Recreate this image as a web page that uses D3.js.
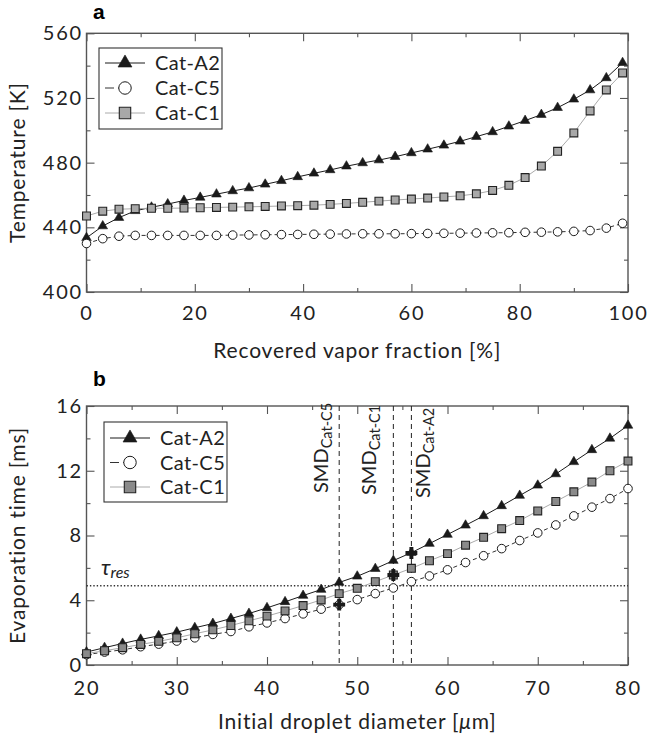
<!DOCTYPE html>
<html>
<head>
<meta charset="utf-8">
<script src="https://cdn.jsdelivr.net/npm/d3@7"></script>
<style>
  body { margin: 0; background: #fff; }
  svg { display: block; font-family: Lato, "Open Sans", sans-serif; }
</style>
</head>
<body>
<svg id="fig" width="651" height="741"></svg>
<script>
// ---- panel a: outlet temperature vs recovered vapor fraction ----
const fraction = [0, 3, 6, 9, 12, 15, 18, 21, 24, 27, 30, 33, 36, 39, 42, 45, 48,
  51, 54, 57, 60, 63, 66, 69, 72, 75, 78, 81, 84, 87, 90, 93, 96, 99];
const tempA2 = [433.5, 440.8, 446, 450.2, 452.4, 454.4, 456.6, 458.5, 460.5, 462.5,
  464.3, 466.6, 468.8, 471.2, 473.4, 475.5, 477.8, 479.8, 481.6, 483.7, 486, 488.3,
  490.7, 493.2, 496.1, 499, 502.5, 506, 509.7, 514, 519.2, 524.9, 532.4, 541.8];
const tempC5 = [430, 433, 434.5, 435, 435, 435, 435, 435, 435, 435.2, 435.3, 435.4,
  435.5, 435.6, 435.7, 435.8, 435.9, 436, 436, 436, 436.1, 436.2, 436.3, 436.4, 436.5,
  436.6, 436.7, 436.9, 437, 437.2, 437.5, 438, 439.5, 442.5];
const tempC1 = [447, 450, 451.2, 451.5, 451.8, 451.8, 451.9, 452.1, 452.3, 452.5,
  452.7, 452.9, 453.2, 453.4, 453.7, 454.2, 454.8, 455.5, 456.2, 456.9, 457.5, 458.1,
  458.8, 459.5, 460.7, 462.8, 466, 470.8, 477.9, 487, 498.4, 512, 525, 535.5];

// ---- panel b: evaporation time vs initial droplet diameter ----
const diameter = [20, 22, 24, 26, 28, 30, 32, 34, 36, 38, 40, 42, 44, 46, 48, 50,
  52, 54, 56, 58, 60, 62, 64, 66, 68, 70, 72, 74, 76, 78, 80];
const evapA2 = [0.8, 1.07, 1.33, 1.58, 1.8, 2.03, 2.3, 2.56, 2.87, 3.18, 3.53, 3.9,
  4.29, 4.66, 5.1, 5.48, 5.95, 6.45, 6.94, 7.5, 8.06, 8.63, 9.21, 9.83, 10.47, 11.1,
  11.8, 12.55, 13.29, 14.0, 14.8];
const evapC5 = [0.64, 0.8, 0.94, 1.13, 1.29, 1.48, 1.68, 1.89, 2.07, 2.36, 2.6, 2.87,
  3.16, 3.45, 3.73, 4.04, 4.41, 4.76, 5.15, 5.5, 5.88, 6.33, 6.75, 7.19, 7.69, 8.16,
  8.65, 9.21, 9.75, 10.28, 10.9];
const evapC1 = [0.7, 0.88, 1.07, 1.27, 1.46, 1.68, 1.93, 2.17, 2.44, 2.73, 3.02, 3.34,
  3.67, 4.02, 4.41, 4.74, 5.15, 5.56, 5.97, 6.44, 6.88, 7.4, 7.89, 8.42, 8.92, 9.52,
  10.1, 10.7, 11.3, 12.0, 12.6];

// Sauter mean diameters and the evaporation time read at each one
const smdNames = ["Cat-C5", "Cat-C1", "Cat-A2"];
const smdDiameter = [48, 54, 56];
const smdEvap = [3.73, 5.56, 6.92];
const tauRes = 4.9;

const seriesNames = ["Cat-A2", "Cat-C5", "Cat-C1"];

const svg = d3.select("#fig");
const INK = "#1a1a1a", FRAME = "#555", TXT = "#222";
const X0 = 86.5, X1 = 628;

function markerStyle(name, panel) {
  if (name === "Cat-A2") return { sym: d3.symbolTriangle, size: 40, fill: INK, stroke: INK, sw: 0.6, line: INK, dash: null };
  if (name === "Cat-C5") return { sym: d3.symbolCircle, size: 58, fill: "#fff", stroke: INK, sw: 1, line: "#333", dash: "4,3" };
  return { sym: d3.symbolSquare, size: 62, fill: panel === "a" ? "#a8a8a8" : "#8a8a8a", stroke: "#222", sw: 1.1, line: "#aaa", dash: null };
}

function drawPanel(p) {
  const x = d3.scaleLinear().domain(p.xDomain).range([X0, X1]);
  const y = d3.scaleLinear().domain(p.yDomain).range([p.bottom, p.top]);
  const g = svg.append("g");

  // inward ticks on all four sides, majors labelled on bottom/left only
  const addAxis = (axisFn, scale, vals, len, labelled, tr, pad) => {
    const ax = axisFn(scale).tickValues(vals).tickSize(-len).tickPadding(pad || 5);
    if (!labelled) ax.tickFormat("");
    const a = g.append("g").attr("transform", tr).call(ax);
    a.select(".domain").remove();
    a.selectAll("line").attr("stroke", FRAME).attr("stroke-width", 1.1);
    a.selectAll("text").attr("font-size", 20).attr("fill", TXT)
      .attr("letter-spacing", 1.8)
      .attr("font-family", "Lato, 'Open Sans', sans-serif");
  };
  const xMaj = d3.range(p.xDomain[0], p.xDomain[1] + 1e-9, p.xMajor);
  const xMin = d3.range(p.xDomain[0], p.xDomain[1] + 1e-9, p.xMajor / 2).filter(v => !xMaj.includes(v));
  const yMaj = d3.range(p.yDomain[0], p.yDomain[1] + 1e-9, p.yMajor);
  const yMin = d3.range(p.yDomain[0], p.yDomain[1] + 1e-9, p.yMajor / 2).filter(v => !yMaj.includes(v));

  addAxis(d3.axisBottom, x, xMaj, 8, true, `translate(0,${p.bottom})`, p.xPad);
  addAxis(d3.axisBottom, x, xMin, 4, false, `translate(0,${p.bottom})`);
  addAxis(d3.axisTop, x, xMaj, 8, false, `translate(0,${p.top})`);
  addAxis(d3.axisTop, x, xMin, 4, false, `translate(0,${p.top})`);
  addAxis(d3.axisLeft, y, yMaj, 8, true, `translate(${X0},0)`, 3.5);
  addAxis(d3.axisLeft, y, yMin, 4, false, `translate(${X0},0)`);
  addAxis(d3.axisRight, y, yMaj, 8, false, `translate(${X1},0)`);
  addAxis(d3.axisRight, y, yMin, 4, false, `translate(${X1},0)`);

  g.append("rect").attr("x", X0).attr("y", p.top).attr("width", X1 - X0)
    .attr("height", p.bottom - p.top).attr("fill", "none")
    .attr("stroke", FRAME).attr("stroke-width", 1.4);

  if (p.extras) p.extras(g, x, y);

  // series: line first, then markers
  p.series.forEach(s => {
    const st = markerStyle(s.name, p.id);
    const pts = p.xs.map((v, i) => [x(v), y(s.values[i])]);
    g.append("path").attr("d", d3.line()(pts)).attr("fill", "none")
      .attr("stroke", st.line).attr("stroke-width", 1)
      .attr("stroke-dasharray", st.dash);
    g.append("g").selectAll("path").data(pts).join("path")
      .attr("transform", d => `translate(${d[0]},${d[1]})`)
      .attr("d", d3.symbol(st.sym, st.size)())
      .attr("fill", st.fill).attr("stroke", st.stroke).attr("stroke-width", st.sw);
  });

  if (p.overlay) p.overlay(g, x, y);

  // legend box
  const L = p.legend;
  const lg = g.append("g").attr("transform", `translate(${L.x},${L.y})`);
  lg.append("rect").attr("width", L.w).attr("height", L.h)
    .attr("fill", "#fff").attr("stroke", "#333").attr("stroke-width", 1.1);
  seriesNames.forEach((name, i) => {
    const st = markerStyle(name, p.id);
    const ry = L.row0 + i * L.dy;
    lg.append("line").attr("x1", 6).attr("x2", 46).attr("y1", ry).attr("y2", ry)
      .attr("stroke", st.line).attr("stroke-width", 1)
      .attr("stroke-dasharray", st.dash ? "9,4,1,40" : null);
    lg.append("path").attr("transform", `translate(26,${ry})`)
      .attr("d", d3.symbol(st.sym, st.size * 2.1)())
      .attr("fill", st.fill).attr("stroke", st.stroke).attr("stroke-width", st.sw);
    lg.append("text").attr("x", 56).attr("y", ry).attr("dy", "0.35em")
      .attr("font-size", 20).attr("letter-spacing", 0.4).attr("fill", TXT).text(name);
  });

  // panel letter and axis titles
  svg.append("text").attr("x", 93).attr("y", p.letterY).attr("font-size", 21)
    .attr("font-weight", "bold").attr("font-family", "'Liberation Sans', Arial, sans-serif")
    .text(p.id);
  const xt = svg.append("text").attr("x", (X0 + X1) / 2).attr("y", p.xTitleY)
    .attr("text-anchor", "middle").attr("font-size", 21).attr("letter-spacing", 0.8).attr("fill", TXT);
  p.xTitle(xt);
  svg.append("text").attr("transform", `translate(25,${(p.top + p.bottom) / 2}) rotate(-90)`)
    .attr("text-anchor", "middle").attr("font-size", 21).attr("letter-spacing", 0.8)
    .attr("fill", TXT).text(p.yTitle);
}

drawPanel({
  id: "a", top: 33.3, bottom: 292, xDomain: [0, 100], yDomain: [400, 560],
  xMajor: 20, yMajor: 40, xPad: 14, letterY: 19, xTitleY: 358,
  xs: fraction,
  series: [{ name: "Cat-A2", values: tempA2 }, { name: "Cat-C5", values: tempC5 }, { name: "Cat-C1", values: tempC1 }],
  legend: { x: 99, y: 48, w: 123, h: 81, row0: 15, dy: 25 },
  xTitle: t => t.text("Recovered vapor fraction [%]"),
  yTitle: "Temperature [K]"
});

drawPanel({
  id: "b", top: 406, bottom: 665, xDomain: [20, 80], yDomain: [0, 16],
  xMajor: 10, yMajor: 4, xPad: 16, letterY: 386, xTitleY: 729,
  xs: diameter,
  series: [{ name: "Cat-A2", values: evapA2 }, { name: "Cat-C5", values: evapC5 }, { name: "Cat-C1", values: evapC1 }],
  legend: { x: 104, y: 422, w: 123, h: 80, row0: 16, dy: 24.5 },
  xTitle: t => {
    t.append("tspan").text("Initial droplet diameter [");
    t.append("tspan").attr("font-style", "italic").text("\u03bc");
    t.append("tspan").text("m]");
  },
  yTitle: "Evaporation time [ms]",
  extras: (g, x, y) => {
    // residence time reference
    g.append("line").attr("x1", x(20)).attr("x2", x(80)).attr("y1", y(tauRes)).attr("y2", y(tauRes))
      .attr("stroke", "#333").attr("stroke-width", 1.4).attr("stroke-dasharray", "1.4,2");
    const tl = g.append("text").attr("x", 101).attr("y", y(tauRes) - 11)
      .attr("font-style", "italic").attr("fill", TXT);
    tl.append("tspan").attr("font-size", 22).text("\u03c4");
    tl.append("tspan").attr("font-size", 16).attr("dy", 3).text("res");
    // SMD markers: dashed verticals with rotated labels
    const labelOffset = [-11, -17, 19];
    const labelStart = [493, 495, 498];
    smdDiameter.forEach((d, i) => {
      g.append("line").attr("x1", x(d)).attr("x2", x(d)).attr("y1", y(16)).attr("y2", y(0))
        .attr("stroke", "#222").attr("stroke-width", 1).attr("stroke-dasharray", "5,4");
      const t = g.append("text")
        .attr("transform", `translate(${x(d) + labelOffset[i]},${labelStart[i]}) rotate(-90)`)
        .attr("fill", TXT);
      t.append("tspan").attr("font-size", 20).text("SMD");
      t.append("tspan").attr("font-size", 14.5).attr("dy", 4).text(smdNames[i]);
    });
  },
  overlay: (g, x, y) => {
    g.append("g").selectAll("path").data(smdDiameter).join("path")
      .attr("transform", (d, i) => `translate(${x(d)},${y(smdEvap[i])})`)
      .attr("d", d3.symbol(d3.symbolCross, 78)())
      .attr("fill", "#1a1a1a");
  }
});
</script>
</body>
</html>
